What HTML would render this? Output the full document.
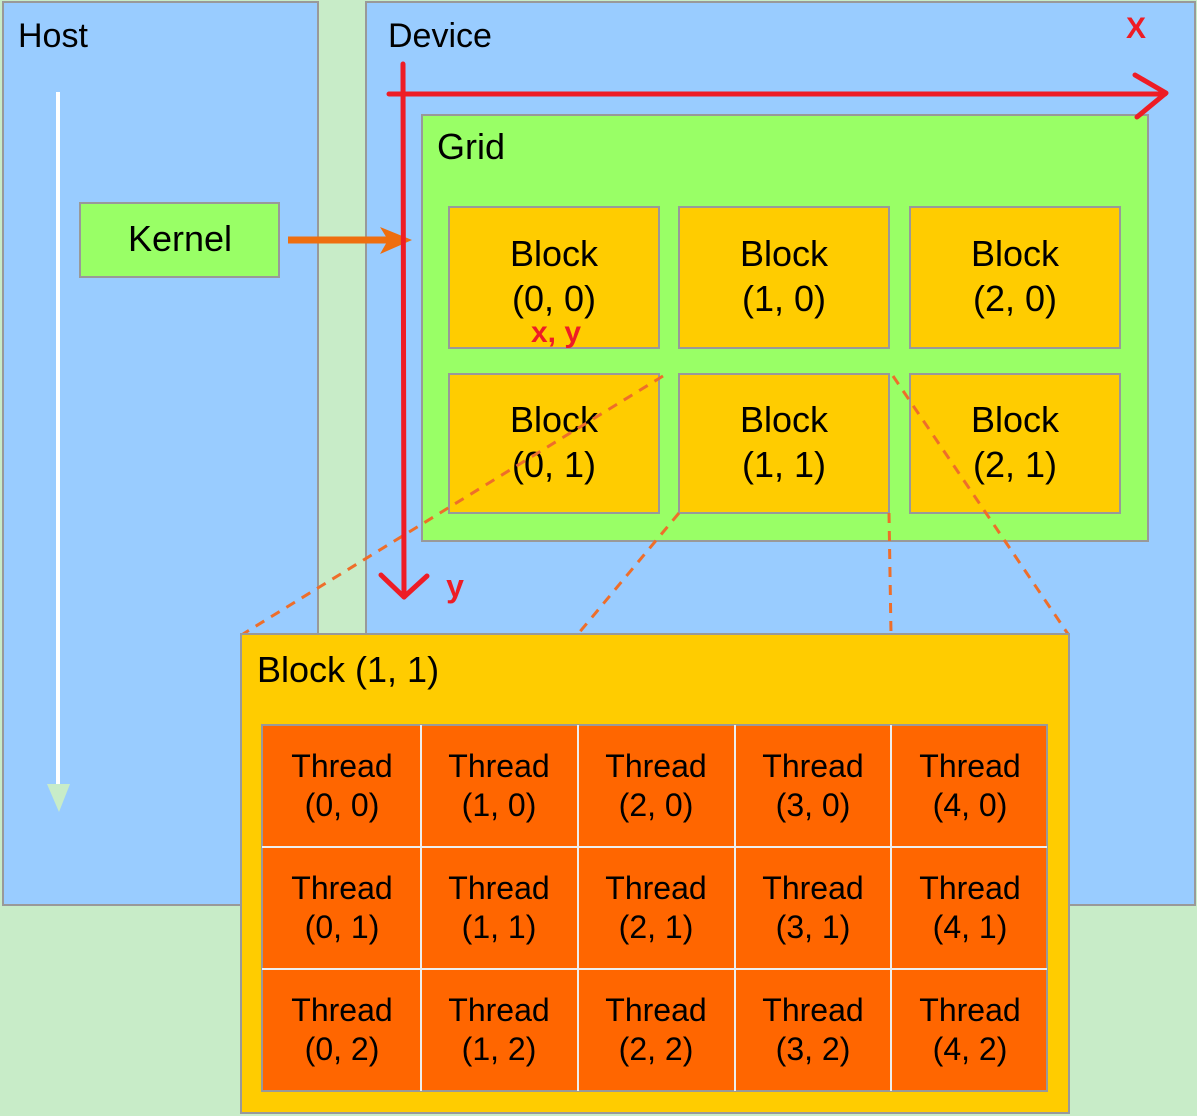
<!DOCTYPE html>
<html><head><meta charset="utf-8"><style>
html,body{margin:0;padding:0;background:#c8ecc8;}
svg{display:block;}
text{font-family:"Liberation Sans",sans-serif;}
</style></head><body>
<svg width="1197" height="1116" viewBox="0 0 1197 1116" xmlns="http://www.w3.org/2000/svg">
<rect x="0" y="0" width="1197" height="1116" fill="#c8ecc8"/>
<!-- Host -->
<rect x="3" y="2" width="315" height="903" fill="#99ccff" stroke="#999" stroke-width="2"/>
<text x="18" y="47" font-size="34" fill="#000">Host</text>
<line x1="58" y1="92" x2="58" y2="790" stroke="#fff" stroke-width="4"/>
<polygon points="47,784 70,784 59,812" fill="#c8ecc8"/>
<!-- Kernel -->
<rect x="80" y="203" width="199" height="74" fill="#99ff66" stroke="#999" stroke-width="2"/>
<text x="180" y="251" font-size="36" text-anchor="middle" fill="#000">Kernel</text>
<!-- Device -->
<rect x="366" y="2" width="829" height="903" fill="#99ccff" stroke="#999" stroke-width="2"/>
<text x="388" y="47" font-size="34" fill="#000">Device</text>
<!-- Grid -->
<rect x="422" y="115" width="726" height="426" fill="#99ff66" stroke="#999" stroke-width="2"/>
<text x="437" y="159" font-size="36" fill="#000">Grid</text>
<!-- orange arrow -->
<line x1="288" y1="240" x2="395" y2="240" stroke="#ee6e0f" stroke-width="7"/>
<polygon points="380,227 412,240 380,254 388,240" fill="#ee6e0f"/>
<g fill="#ffcc00" stroke="#999" stroke-width="2">
<rect x="449" y="207" width="210" height="141"/><rect x="679" y="207" width="210" height="141"/><rect x="910" y="207" width="210" height="141"/>
<rect x="449" y="374" width="210" height="139"/><rect x="679" y="374" width="210" height="139"/><rect x="910" y="374" width="210" height="139"/>
</g>
<g font-size="36" text-anchor="middle" fill="#000">
<text x="554" y="266">Block</text><text x="554" y="311">(0, 0)</text>
<text x="784" y="266">Block</text><text x="784" y="311">(1, 0)</text>
<text x="1015" y="266">Block</text><text x="1015" y="311">(2, 0)</text>
<text x="554" y="432">Block</text><text x="554" y="477">(0, 1)</text>
<text x="784" y="432">Block</text><text x="784" y="477">(1, 1)</text>
<text x="1015" y="432">Block</text><text x="1015" y="477">(2, 1)</text>
</g>
<!-- dashed lines -->
<g stroke="#ee6e2a" stroke-width="3" stroke-dasharray="10,8" fill="none">
<line x1="663" y1="376" x2="243" y2="634"/>
<line x1="679" y1="513" x2="578" y2="634"/>
<line x1="889" y1="513" x2="891" y2="634"/>
<line x1="893" y1="376" x2="1068" y2="634"/>
</g>
<!-- Block (1,1) detail -->
<rect x="241" y="634" width="828" height="479" fill="#ffcc00" stroke="#999" stroke-width="2"/>
<text x="257" y="682" font-size="36" fill="#000">Block (1, 1)</text>
<rect x="262" y="725" width="785" height="366" fill="#ff6600" stroke="#999" stroke-width="2"/>
<g stroke="#eee" stroke-width="2">
<line x1="421" y1="725" x2="421" y2="1091"/><line x1="578" y1="725" x2="578" y2="1091"/>
<line x1="735" y1="725" x2="735" y2="1091"/><line x1="891" y1="725" x2="891" y2="1091"/>
<line x1="262" y1="847" x2="1047" y2="847"/><line x1="262" y1="969" x2="1047" y2="969"/>
</g>
<g font-size="32" text-anchor="middle" fill="#000">
<text x="342" y="777">Thread</text><text x="342" y="816">(0, 0)</text>
<text x="499" y="777">Thread</text><text x="499" y="816">(1, 0)</text>
<text x="656" y="777">Thread</text><text x="656" y="816">(2, 0)</text>
<text x="813" y="777">Thread</text><text x="813" y="816">(3, 0)</text>
<text x="970" y="777">Thread</text><text x="970" y="816">(4, 0)</text>
<text x="342" y="899">Thread</text><text x="342" y="938">(0, 1)</text>
<text x="499" y="899">Thread</text><text x="499" y="938">(1, 1)</text>
<text x="656" y="899">Thread</text><text x="656" y="938">(2, 1)</text>
<text x="813" y="899">Thread</text><text x="813" y="938">(3, 1)</text>
<text x="970" y="899">Thread</text><text x="970" y="938">(4, 1)</text>
<text x="342" y="1021">Thread</text><text x="342" y="1060">(0, 2)</text>
<text x="499" y="1021">Thread</text><text x="499" y="1060">(1, 2)</text>
<text x="656" y="1021">Thread</text><text x="656" y="1060">(2, 2)</text>
<text x="813" y="1021">Thread</text><text x="813" y="1060">(3, 2)</text>
<text x="970" y="1021">Thread</text><text x="970" y="1060">(4, 2)</text>
</g>
<!-- red axes -->
<g stroke="#ee1c25" stroke-width="5" stroke-linecap="round" stroke-linejoin="round" fill="none">
<line x1="389" y1="94" x2="1165" y2="94"/>
<polyline points="1135,75 1166,93 1137,117"/>
<line x1="403" y1="64" x2="404" y2="597"/>
<polyline points="381,575 404,597 427,576"/>
</g>
<g fill="#ee1c25" font-weight="bold">
<text x="1136" y="38" font-size="30" text-anchor="middle">X</text>
<text x="455" y="597" font-size="32" text-anchor="middle">y</text>
<text x="556" y="342" font-size="30" text-anchor="middle">x,  y</text>
</g>
</svg>
</body></html>
